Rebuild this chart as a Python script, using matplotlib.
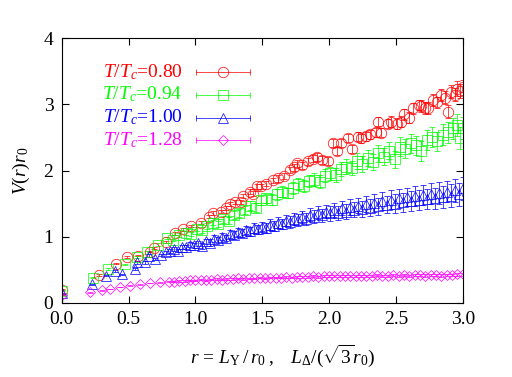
import matplotlib
matplotlib.use("Agg")
import matplotlib.pyplot as plt

plt.rcParams["font.family"] = "Liberation Serif"
plt.rcParams["mathtext.fontset"] = "custom"
plt.rcParams["mathtext.rm"] = "Liberation Serif"
plt.rcParams["mathtext.it"] = "Liberation Serif:italic"

# T/Tc = 0.80
r_080 = [0.00, 0.28, 0.41, 0.49, 0.57, 0.66, 0.69, 0.78, 0.85, 0.91,
         0.97, 1.04, 1.10, 1.13, 1.19, 1.23, 1.26, 1.30, 1.34, 1.36,
         1.41, 1.43, 1.46, 1.49, 1.53, 1.58, 1.62, 1.66, 1.71, 1.74,
         1.76, 1.80, 1.84, 1.88, 1.91, 1.95, 1.99, 2.03, 2.06, 2.09,
         2.14, 2.17, 2.22, 2.24, 2.28, 2.31, 2.35, 2.37, 2.39, 2.44,
         2.46, 2.51, 2.54, 2.56, 2.60, 2.63, 2.67, 2.69, 2.72, 2.74,
         2.78, 2.81, 2.84, 2.87, 2.89, 2.91, 2.94, 2.96, 2.98, 3.00]
v_080 = [0.20, 0.42, 0.59, 0.69, 0.71, 0.77, 0.83, 0.92, 1.05, 1.11,
         1.16, 1.21, 1.30, 1.36, 1.38, 1.44, 1.49, 1.52, 1.53, 1.61,
         1.68, 1.65, 1.76, 1.76, 1.80, 1.85, 1.88, 1.92, 2.01, 2.05,
         2.11, 2.08, 2.14, 2.18, 2.21, 2.16, 2.14, 2.41, 2.29, 2.41,
         2.49, 2.32, 2.51, 2.49, 2.52, 2.55, 2.58, 2.74, 2.57, 2.71,
         2.74, 2.71, 2.74, 2.85, 2.80, 2.94, 2.99, 2.97, 2.95, 2.94,
         3.07, 3.03, 3.14, 3.10, 2.89, 3.19, 3.15, 3.24, 3.20, 3.26]
e_080 = [0.01, 0.01, 0.01, 0.01, 0.01, 0.01, 0.01, 0.02, 0.02, 0.02,
         0.02, 0.02, 0.02, 0.03, 0.03, 0.03, 0.03, 0.03, 0.03, 0.03,
         0.04, 0.04, 0.04, 0.04, 0.04, 0.04, 0.05, 0.05, 0.05, 0.05,
         0.05, 0.05, 0.05, 0.05, 0.06, 0.06, 0.06, 0.06, 0.06, 0.06,
         0.06, 0.06, 0.07, 0.07, 0.07, 0.07, 0.07, 0.07, 0.07, 0.07,
         0.08, 0.08, 0.08, 0.08, 0.08, 0.08, 0.08, 0.09, 0.09, 0.09,
         0.09, 0.09, 0.09, 0.10, 0.10, 0.10, 0.10, 0.11, 0.11, 0.11]

# T/Tc = 0.94
r_094 = [0.00, 0.235, 0.35, 0.47, 0.56, 0.64, 0.72, 0.79, 0.83, 0.88,
         0.93, 0.97, 1.01, 1.05, 1.09, 1.13, 1.17, 1.21, 1.25, 1.29,
         1.33, 1.37, 1.41, 1.45, 1.49, 1.53, 1.57, 1.61, 1.65, 1.69,
         1.73, 1.77, 1.81, 1.85, 1.89, 1.93, 1.97, 2.01, 2.05, 2.09,
         2.13, 2.17, 2.21, 2.25, 2.29, 2.33, 2.37, 2.41, 2.45, 2.49,
         2.53, 2.57, 2.61, 2.65, 2.69, 2.73, 2.77, 2.81, 2.85, 2.89,
         2.93, 2.96, 2.98, 3.00]
v_094 = [0.18, 0.38, 0.51, 0.58, 0.69, 0.76, 0.88, 0.98, 0.95, 1.02,
         1.06, 1.04, 1.12, 1.10, 1.16, 1.21, 1.19, 1.26, 1.24, 1.33,
         1.36, 1.40, 1.47, 1.44, 1.55, 1.58, 1.56, 1.64, 1.68, 1.66,
         1.74, 1.79, 1.77, 1.84, 1.86, 1.83, 1.92, 1.96, 1.93, 2.02,
         2.06, 2.04, 2.14, 2.10, 2.19, 2.13, 2.26, 2.21, 2.30, 2.17,
         2.36, 2.33, 2.41, 2.38, 2.29, 2.46, 2.51, 2.44, 2.54, 2.58,
         2.64, 2.69, 2.49, 2.64]
e_094 = [0.01, 0.01, 0.01, 0.01, 0.01, 0.02, 0.02, 0.02, 0.02, 0.03,
         0.03, 0.03, 0.03, 0.04, 0.04, 0.04, 0.05, 0.05, 0.05, 0.06,
         0.06, 0.06, 0.07, 0.07, 0.07, 0.07, 0.08, 0.08, 0.08, 0.08,
         0.09, 0.09, 0.09, 0.09, 0.10, 0.10, 0.10, 0.10, 0.11, 0.11,
         0.11, 0.11, 0.12, 0.12, 0.12, 0.12, 0.13, 0.13, 0.13, 0.13,
         0.14, 0.14, 0.14, 0.14, 0.15, 0.15, 0.15, 0.15, 0.16, 0.16,
         0.16, 0.17, 0.17, 0.17]

# T/Tc = 1.00
r_100 = [0.00, 0.23, 0.33, 0.40, 0.45, 0.55, 0.56, 0.62, 0.65, 0.70,
         0.74, 0.78, 0.81, 0.84, 0.87, 0.90, 0.93, 0.96, 0.99, 1.02,
         1.05, 1.08, 1.11, 1.14, 1.17, 1.20, 1.23, 1.26, 1.29, 1.32,
         1.35, 1.38, 1.41, 1.44, 1.47, 1.50, 1.53, 1.56, 1.59, 1.62,
         1.65, 1.68, 1.71, 1.74, 1.77, 1.80, 1.83, 1.86, 1.89, 1.92,
         1.95, 1.98, 2.01, 2.04, 2.07, 2.10, 2.13, 2.16, 2.19, 2.22,
         2.25, 2.28, 2.31, 2.34, 2.37, 2.40, 2.43, 2.46, 2.49, 2.52,
         2.55, 2.58, 2.61, 2.64, 2.67, 2.70, 2.73, 2.76, 2.79, 2.82,
         2.85, 2.88, 2.91, 2.94, 2.97, 3.00]
v_100 = [0.14, 0.28, 0.41, 0.48, 0.43, 0.51, 0.61, 0.61, 0.71, 0.66,
         0.72, 0.76, 0.78, 0.81, 0.79, 0.85, 0.84, 0.88, 0.87, 0.90,
         0.86, 0.93, 0.91, 0.97, 0.95, 1.00, 0.98, 1.04, 1.02, 1.07,
         1.05, 1.10, 1.08, 1.13, 1.11, 1.15, 1.13, 1.18, 1.16, 1.21,
         1.19, 1.24, 1.22, 1.27, 1.25, 1.30, 1.26, 1.33, 1.30, 1.36,
         1.32, 1.38, 1.35, 1.40, 1.36, 1.43, 1.38, 1.45, 1.41, 1.47,
         1.42, 1.49, 1.44, 1.51, 1.46, 1.54, 1.48, 1.56, 1.50, 1.58,
         1.52, 1.60, 1.54, 1.62, 1.56, 1.63, 1.57, 1.65, 1.58, 1.66,
         1.60, 1.68, 1.62, 1.70, 1.64, 1.73]
e_100 = [0.01, 0.01, 0.01, 0.01, 0.01, 0.01, 0.02, 0.02, 0.02, 0.02,
         0.02, 0.02, 0.03, 0.03, 0.03, 0.03, 0.03, 0.04, 0.04, 0.04,
         0.04, 0.04, 0.05, 0.05, 0.05, 0.05, 0.05, 0.06, 0.06, 0.06,
         0.06, 0.06, 0.07, 0.07, 0.07, 0.07, 0.07, 0.08, 0.08, 0.08,
         0.08, 0.08, 0.09, 0.09, 0.09, 0.09, 0.09, 0.10, 0.10, 0.10,
         0.10, 0.10, 0.11, 0.11, 0.11, 0.11, 0.11, 0.12, 0.12, 0.12,
         0.12, 0.12, 0.13, 0.13, 0.13, 0.13, 0.13, 0.14, 0.14, 0.14,
         0.14, 0.14, 0.15, 0.15, 0.15, 0.15, 0.15, 0.16, 0.16, 0.16,
         0.16, 0.16, 0.17, 0.17, 0.17, 0.17]

# T/Tc = 1.28
r_128 = [0.00, 0.215, 0.30, 0.36, 0.435, 0.51, 0.585, 0.66, 0.735, 0.80,
         0.84, 0.88, 0.92, 0.96, 1.00, 1.04, 1.08, 1.12, 1.16, 1.20,
         1.24, 1.28, 1.32, 1.36, 1.40, 1.44, 1.48, 1.52, 1.56, 1.60,
         1.64, 1.68, 1.72, 1.76, 1.80, 1.84, 1.88, 1.92, 1.96, 2.00,
         2.04, 2.08, 2.12, 2.16, 2.20, 2.24, 2.28, 2.32, 2.36, 2.40,
         2.44, 2.48, 2.52, 2.56, 2.60, 2.64, 2.68, 2.72, 2.76, 2.80,
         2.84, 2.88, 2.92, 2.96, 3.00]
v_128 = [0.12, 0.155, 0.19, 0.21, 0.24, 0.26, 0.28, 0.30, 0.31, 0.32,
         0.32, 0.33, 0.33, 0.34, 0.34, 0.35, 0.34, 0.35, 0.36, 0.35,
         0.36, 0.36, 0.37, 0.36, 0.37, 0.37, 0.38, 0.37, 0.38, 0.38,
         0.38, 0.39, 0.38, 0.39, 0.39, 0.39, 0.40, 0.39, 0.40, 0.40,
         0.40, 0.40, 0.41, 0.40, 0.41, 0.41, 0.40, 0.41, 0.42, 0.41,
         0.41, 0.42, 0.41, 0.42, 0.41, 0.42, 0.42, 0.41, 0.42, 0.42,
         0.41, 0.42, 0.42, 0.43, 0.43]
e_128 = [0.005, 0.005, 0.005, 0.005, 0.005, 0.005, 0.005, 0.005, 0.005, 0.005,
         0.01, 0.01, 0.01, 0.01, 0.01, 0.01, 0.01, 0.01, 0.01, 0.01,
         0.01, 0.01, 0.01, 0.01, 0.01, 0.01, 0.01, 0.01, 0.01, 0.01,
         0.01, 0.01, 0.01, 0.01, 0.01, 0.015, 0.015, 0.015, 0.015, 0.015,
         0.015, 0.015, 0.015, 0.015, 0.015, 0.015, 0.015, 0.015, 0.015, 0.015,
         0.015, 0.015, 0.015, 0.015, 0.015, 0.02, 0.02, 0.02, 0.02, 0.02,
         0.02, 0.02, 0.02, 0.02, 0.02]

series = [
    (r_080, v_080, e_080, "#ff0000", "o", 7.5, "0.80"),
    (r_094, v_094, e_094, "#00ff00", "s", 7.0, "0.94"),
    (r_100, v_100, e_100, "#0000ff", "^", 6.5, "1.00"),
    (r_128, v_128, e_128, "#ff00ff", "D", 5.0, "1.28"),
]

fig = plt.figure(figsize=(5.12, 3.77), dpi=100)
ax = fig.add_axes([0.1205, 0.197, 0.7832, 0.7013])

for r, v, e, col, mk, ms, lab in series:
    ax.errorbar(r, v, yerr=e, fmt=mk, ms=ms, mfc="none", mec=col, mew=0.6,
                ecolor=col, elinewidth=0.6, capsize=2.0, capthick=0.6,
                alpha=0.85)

# gnuplot-style key: coloured text, then sample line with end caps
rows = [0.8725, 0.7874, 0.7005, 0.6154]
for (r, v, e, col, mk, ms, lab), y in zip(series, rows):
    ax.text(0.3017, y, r"$T/T_c$=" + lab, color=col, fontsize=14,
            ha="right", va="center", transform=ax.transAxes)
    ax.plot([0.334, 0.4696], [y, y], color=col, lw=0.6, alpha=0.85,
            transform=ax.transAxes)
    ax.plot([0.334, 0.4696], [y, y], ls="none", marker="|", ms=5, mew=0.6,
            color=col, alpha=0.85, transform=ax.transAxes)
    ax.plot([0.4017], [y], ls="none", marker=mk, ms=ms, mfc="none", mec=col,
            mew=0.6, alpha=0.85, transform=ax.transAxes)

ax.set_xlim(0, 3)
ax.set_ylim(0, 4)
ax.set_xticks([0.0, 0.5, 1.0, 1.5, 2.0, 2.5, 3.0])
ax.set_xticklabels(["0.0", "0.5", "1.0", "1.5", "2.0", "2.5", "3.0"])
ax.set_yticks([0, 1, 2, 3, 4])
ax.tick_params(direction="in", length=5, width=0.8, top=True, right=True,
               labelsize=14, pad=6)
ax.set_ylabel(r"$V(r)r_0$", fontsize=14, labelpad=8)
fig.text(282.5 / 512, 1 - 356 / 377,
         r"$r\,=\,L_{\rm Y}\,/\,r_0\;,\quad L_{\Delta}/(\sqrt{3}r_0)$",
         fontsize=14, ha="center", va="center")

fig.savefig("out.png", dpi=100)
